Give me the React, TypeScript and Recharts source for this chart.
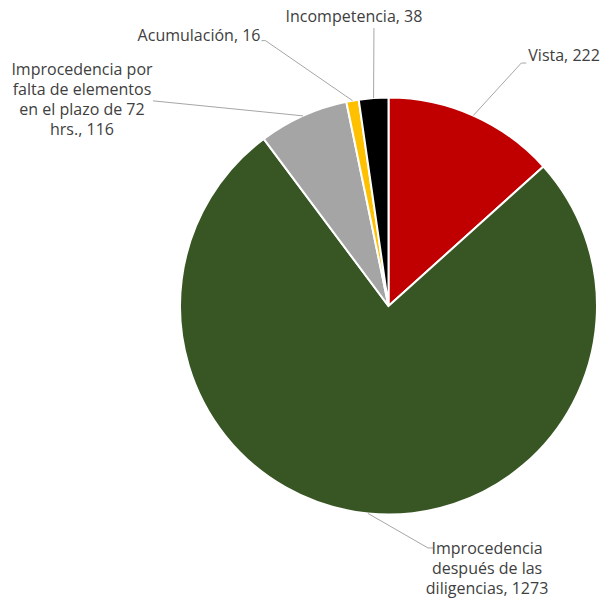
import React from "react";
import { PieChart, Pie, Cell } from "recharts";

const categories = [
  "Vista",
  "Improcedencia después de las diligencias",
  "Improcedencia por falta de elementos en el plazo de 72 hrs.",
  "Acumulación",
  "Incompetencia",
];
const values = [222, 1273, 116, 16, 38];
const colors = ["#C00000", "#375623", "#A5A5A5", "#FFC000", "#000000"];

// label text wrapping (text only)
const labelLines = [
  ["Vista, 222"],
  ["Improcedencia", "después de las", "diligencias, 1273"],
  ["Improcedencia por", "falta de elementos", "en el plazo de 72", "hrs., 116"],
  ["Acumulación, 16"],
  ["Incompetencia, 38"],
];

// leader-line / text layout relative to the slice's outer point
const labelLayout = [
  { ex: 48, ey: -52.5, hx: 5, tx: 55, ty: -60.5, anchor: "start" },
  { ex: 60, ey: 34.5, hx: 5, tx: 119, ty: 34.5, anchor: "middle" },
  { ex: -150, ey: -15, hx: 0, tx: -221, ty: -46.5, anchor: "middle" },
  { ex: -87, ey: -60, hx: -4, tx: -92, ty: -65.5, anchor: "end" },
  { ex: 0.4, ey: -70, hx: 0, tx: -19.6, ty: -82, anchor: "middle" },
];

const data = categories.map((name, i) => ({ name, value: values[i] }));

const RAD = Math.PI / 180;

const renderLabel = (props: any) => {
  const { cx, cy, midAngle, outerRadius, index } = props;
  const sx = cx + outerRadius * Math.cos(-midAngle * RAD);
  const sy = cy + outerRadius * Math.sin(-midAngle * RAD);
  const L = labelLayout[index];
  const mx = sx + L.ex;
  const my = sy + L.ey;
  const lines = labelLines[index];
  return (
    <g key={`lbl-${index}`}>
      <polyline
        points={`${sx},${sy} ${mx},${my} ${mx + L.hx},${my}`}
        fill="none"
        stroke="#A6A6A6"
        strokeWidth={1}
      />
      {lines.map((t, j) => (
        <text
          key={j}
          x={sx + L.tx}
          y={sy + L.ty + j * 20}
          textAnchor={L.anchor as any}
          dominantBaseline="central"
          fill="#404040"
          fontSize={16}
          fontFamily="'Open Sans', sans-serif"
        >
          {t}
        </text>
      ))}
    </g>
  );
};

export default function App() {
  return (
    <div style={{ position: "absolute", left: 0, top: 0, width: 609, height: 598, background: "#fff" }}>
      <PieChart width={609} height={598} margin={{ top: 0, right: 0, bottom: 0, left: 0 }}>
        <Pie
          data={data}
          dataKey="value"
          nameKey="name"
          cx={388.5}
          cy={306}
          outerRadius={208.5}
          innerRadius={0}
          startAngle={90}
          endAngle={-270}
          stroke="#FFFFFF"
          strokeWidth={2}
          label={renderLabel}
          labelLine={false}
          isAnimationActive={false}
        >
          {data.map((d, i) => (
            <Cell key={d.name} fill={colors[i]} />
          ))}
        </Pie>
      </PieChart>
    </div>
  );
}
